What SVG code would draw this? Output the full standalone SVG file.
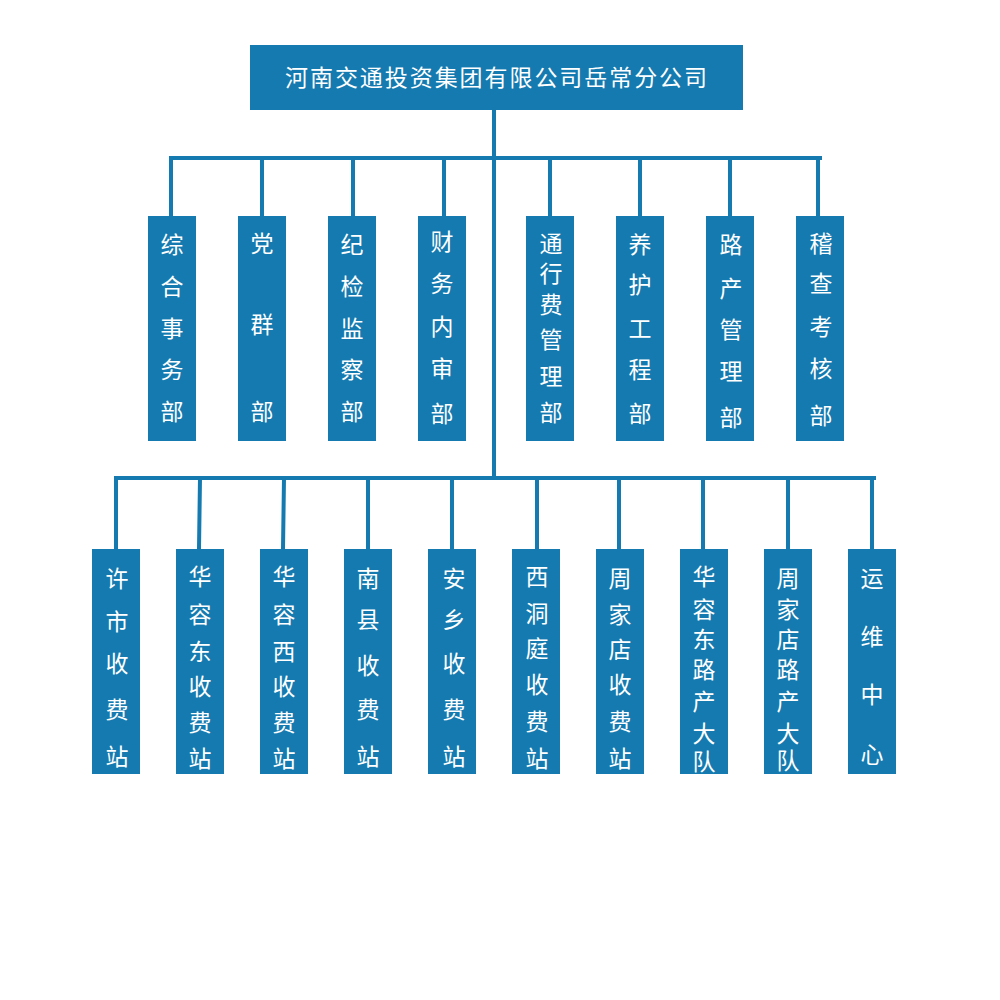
<svg xmlns="http://www.w3.org/2000/svg" width="1000" height="1000" viewBox="0 0 1000 1000">
<style>
.box{fill:#147AB0}
.t{fill:#fff;font-family:"Noto Sans CJK SC","Noto Sans",sans-serif;font-size:23px;text-anchor:middle;dominant-baseline:central}
.ln{stroke:#147AB0;stroke-width:4;fill:none}
</style>
<rect width="1000" height="1000" fill="#fff"/>
<g id="connectors">
<path class="ln" d="M494 110V478"/>
<path class="ln" d="M169 158H822"/>
<path class="ln" d="M171 158V216M262 158V216M353 158V216M444 158V216M550 158V216M640 158V216M730 158V216M818 158V216"/>
<path class="ln" d="M114 478H876"/>
<path class="ln" d="M116 478V549M200 478L199 549M284 478L283 549M368 478V549M452 478V549M537 478V549M619 478V549M703 478V549M788 478V549M872 478V549"/>
</g>
<g id="root">
<rect class="box" x="250" y="45" width="493" height="65"/>
<text class="t" x="496" y="76" textLength="422" lengthAdjust="spacing">河南交通投资集团有限公司岳常分公司</text>
</g>
<g id="n1"><rect class="box" x="148" y="216" width="48" height="225"/>
<text class="t" x="172" y="243">综</text><text class="t" x="172" y="285">合</text><text class="t" x="172" y="327">事</text><text class="t" x="172" y="368">务</text><text class="t" x="172" y="410">部</text></g>
<g id="n2"><rect class="box" x="238" y="216" width="48" height="225"/>
<text class="t" x="262" y="242">党</text><text class="t" x="262" y="323">群</text><text class="t" x="262" y="410">部</text></g>
<g id="n3"><rect class="box" x="328" y="216" width="48" height="225"/>
<text class="t" x="352" y="243">纪</text><text class="t" x="352" y="285">检</text><text class="t" x="352" y="327">监</text><text class="t" x="352" y="368">察</text><text class="t" x="352" y="410">部</text></g>
<g id="n4"><rect class="box" x="418" y="216" width="48" height="225"/>
<text class="t" x="442" y="240">财</text><text class="t" x="442" y="282">务</text><text class="t" x="442" y="325">内</text><text class="t" x="442" y="367">审</text><text class="t" x="442" y="412">部</text></g>
<g id="n5"><rect class="box" x="526" y="216" width="48" height="225"/>
<text class="t" x="551" y="242">通</text><text class="t" x="551" y="272">行</text><text class="t" x="551" y="303">费</text><text class="t" x="551" y="338">管</text><text class="t" x="551" y="375">理</text><text class="t" x="551" y="411">部</text></g>
<g id="n6"><rect class="box" x="616" y="216" width="48" height="225"/>
<text class="t" x="640" y="243">养</text><text class="t" x="640" y="283">护</text><text class="t" x="640" y="327">工</text><text class="t" x="640" y="368">程</text><text class="t" x="640" y="412">部</text></g>
<g id="n7"><rect class="box" x="706" y="216" width="48" height="225"/>
<text class="t" x="731" y="243">路</text><text class="t" x="731" y="287">产</text><text class="t" x="731" y="328">管</text><text class="t" x="731" y="370">理</text><text class="t" x="731" y="416">部</text></g>
<g id="n8"><rect class="box" x="796" y="216" width="48" height="225"/>
<text class="t" x="821" y="242">稽</text><text class="t" x="821" y="282">查</text><text class="t" x="821" y="325">考</text><text class="t" x="821" y="367">核</text><text class="t" x="821" y="414">部</text></g>
<g id="s1"><rect class="box" x="92" y="549" width="48" height="225"/>
<text class="t" x="117" y="577">许</text><text class="t" x="117" y="620">市</text><text class="t" x="117" y="662">收</text><text class="t" x="117" y="708">费</text><text class="t" x="117" y="755">站</text></g>
<g id="s2"><rect class="box" x="176" y="549" width="48" height="225"/>
<text class="t" x="200" y="575">华</text><text class="t" x="200" y="613">容</text><text class="t" x="200" y="650">东</text><text class="t" x="200" y="685">收</text><text class="t" x="200" y="721">费</text><text class="t" x="200" y="757">站</text></g>
<g id="s3"><rect class="box" x="260" y="549" width="48" height="225"/>
<text class="t" x="284" y="575">华</text><text class="t" x="284" y="613">容</text><text class="t" x="284" y="650">西</text><text class="t" x="284" y="685">收</text><text class="t" x="284" y="721">费</text><text class="t" x="284" y="757">站</text></g>
<g id="s4"><rect class="box" x="344" y="549" width="48" height="225"/>
<text class="t" x="368" y="577">南</text><text class="t" x="368" y="618">县</text><text class="t" x="368" y="664">收</text><text class="t" x="368" y="708">费</text><text class="t" x="368" y="755">站</text></g>
<g id="s5"><rect class="box" x="428" y="549" width="48" height="225"/>
<text class="t" x="454" y="577">安</text><text class="t" x="454" y="618">乡</text><text class="t" x="454" y="662">收</text><text class="t" x="454" y="708">费</text><text class="t" x="454" y="755">站</text></g>
<g id="s6"><rect class="box" x="512" y="549" width="48" height="225"/>
<text class="t" x="537" y="575">西</text><text class="t" x="537" y="612">洞</text><text class="t" x="537" y="647">庭</text><text class="t" x="537" y="683">收</text><text class="t" x="537" y="720">费</text><text class="t" x="537" y="757">站</text></g>
<g id="s7"><rect class="box" x="596" y="549" width="48" height="225"/>
<text class="t" x="620" y="577">周</text><text class="t" x="620" y="613">家</text><text class="t" x="620" y="648">店</text><text class="t" x="620" y="683">收</text><text class="t" x="620" y="720">费</text><text class="t" x="620" y="757">站</text></g>
<g id="s8"><rect class="box" x="680" y="549" width="48" height="225"/>
<text class="t" x="704" y="575">华</text><text class="t" x="704" y="608">容</text><text class="t" x="704" y="638">东</text><text class="t" x="704" y="668">路</text><text class="t" x="704" y="700">产</text><text class="t" x="704" y="732">大</text><text class="t" x="704" y="760">队</text></g>
<g id="s9"><rect class="box" x="764" y="549" width="48" height="225"/>
<text class="t" x="788" y="577">周</text><text class="t" x="788" y="608">家</text><text class="t" x="788" y="638">店</text><text class="t" x="788" y="668">路</text><text class="t" x="788" y="700">产</text><text class="t" x="788" y="732">大</text><text class="t" x="788" y="759">队</text></g>
<g id="s10"><rect class="box" x="848" y="549" width="48" height="225"/>
<text class="t" x="872" y="577">运</text><text class="t" x="872" y="635">维</text><text class="t" x="872" y="693">中</text><text class="t" x="872" y="753">心</text></g>
</svg>
